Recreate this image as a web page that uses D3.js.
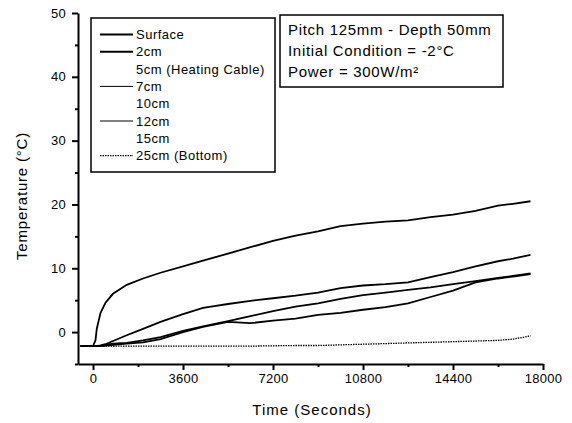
<!DOCTYPE html>
<html>
<head>
<meta charset="utf-8">
<script src="https://cdn.jsdelivr.net/npm/d3@7"></script>
<style>
    body { margin: 0; background: #fff; }
    text { font-family: "Liberation Sans", Arial, sans-serif; fill: #000; }
</style>
</head>
<body>
<div id="chart"></div>
<script>
// time in seconds
var times = [-500, 0, 100, 150, 300, 500, 800, 1350, 2000, 2700, 3600, 4400, 5400, 6300, 7200,
    8100, 9000, 9900, 10800, 11700, 12600, 13500, 14400, 15300, 16200, 16800, 17500];

var surface = [-2.2, -2.2, -1.3, 0.5, 3.0, 4.6, 6.0, 7.4, 8.4, 9.3, 10.3, 11.2, 12.3, 13.3, 14.3,
    15.1, 15.8, 16.6, 17.0, 17.3, 17.5, 18.0, 18.4, 19.0, 19.8, 20.1, 20.5];
var cm2 = [-2.2, -2.2, -2.2, -2.2, -2.1, -1.9, -1.4, -0.5, 0.5, 1.6, 2.8, 3.8, 4.4, 4.9, 5.3,
    5.7, 6.2, 6.9, 7.3, 7.5, 7.8, 8.6, 9.4, 10.3, 11.1, 11.5, 12.1];
var cm7 = [-2.2, -2.2, -2.2, -2.2, -2.2, -2.0, -1.8, -1.7, -1.3, -0.8, 0.2, 0.9, 1.7, 2.5, 3.3,
    4.0, 4.5, 5.2, 5.8, 6.2, 6.6, 7.0, 7.5, 8.0, 8.5, 8.8, 9.2];
var cm12 = [-2.2, -2.2, -2.2, -2.2, -2.2, -2.1, -2.0, -1.8, -1.6, -1.1, 0.0, 0.8, 1.6, 1.4, 1.8,
    2.1, 2.7, 3.0, 3.5, 3.9, 4.5, 5.5, 6.5, 7.8, 8.4, 8.7, 9.1];
var cm25 = [-2.2, -2.2, -2.2, -2.2, -2.2, -2.2, -2.2, -2.2, -2.2, -2.2, -2.2, -2.2, -2.2, -2.2, -2.15,
    -2.1, -2.1, -2.0, -1.9, -1.8, -1.7, -1.6, -1.5, -1.4, -1.3, -1.1, -0.6];

var legendNames = ["Surface", "2cm", "5cm (Heating Cable)", "7cm", "10cm", "12cm", "15cm", "25cm (Bottom)"];
var legendData = [surface, cm2, null, cm7, null, cm12, null, cm25];
var strokeW = [2, 2, 0, 1, 0, 1, 0, 1.2];

var xTicks = [0, 3600, 7200, 10800, 14400, 18000];
var yTicks = [0, 10, 20, 30, 40, 50];
var noteLines = ["Pitch 125mm - Depth 50mm", "Initial Condition = -2°C", "Power = 300W/m²"];

var width = 572, height = 423;
var svg = d3.select("#chart")
    .append("svg")
    .attr("width", width)
    .attr("height", height);

var x = d3.scaleLinear().domain([-600, 18000]).range([78, 543]);
var y = d3.scaleLinear().domain([-5, 50]).range([364, 13]);

// minor ticks first
svg.append("g")
    .attr("transform", "translate(0,364)")
    .call(d3.axisBottom(x).tickValues(d3.range(1800, 18000, 3600)).tickSize(3).tickFormat(""))
    .call(g => g.select(".domain").remove());
svg.append("g")
    .attr("transform", "translate(78,0)")
    .call(d3.axisLeft(y).tickValues(d3.range(-5, 50, 10)).tickSize(3).tickFormat(""))
    .call(g => g.select(".domain").remove());

var xAxis = svg.append("g")
    .attr("transform", "translate(0,364)")
    .call(d3.axisBottom(x).tickValues(xTicks).tickFormat(d3.format("d")).tickSize(6).tickSizeOuter(0).tickPadding(4));
var yAxis = svg.append("g")
    .attr("transform", "translate(78,0)")
    .call(d3.axisLeft(y).tickValues(yTicks).tickFormat(d3.format("d")).tickSize(6).tickSizeOuter(0).tickPadding(6));

svg.selectAll(".tick text")
    .attr("font-size", "13px")
    .attr("letter-spacing", "0.3px")
    .attr("font-family", "Liberation Sans, Arial, sans-serif");
svg.selectAll(".domain, .tick line").attr("stroke", "#000").attr("stroke-width", 2);

svg.append("text")
    .attr("x", 312)
    .attr("y", 415)
    .attr("text-anchor", "middle")
    .attr("font-size", "15px")
    .attr("letter-spacing", "1px")
    .text("Time (Seconds)");

svg.append("text")
    .attr("transform", "translate(27,196) rotate(-90)")
    .attr("text-anchor", "middle")
    .attr("font-size", "15px")
    .attr("letter-spacing", "0.8px")
    .text("Temperature (°C)");

var line = d3.line()
    .x(function (d, i) { return x(times[i]); })
    .y(function (d) { return y(d); });

legendData.forEach(function (vals, i) {
    if (!vals) return;
    svg.append("path")
        .datum(vals)
        .attr("fill", "none")
        .attr("stroke", "#000")
        .attr("stroke-width", i == 7 ? 1.3 : 1.8)
        .attr("stroke-dasharray", i == 7 ? "1.5,1" : null)
        .attr("d", line);
});

// legend
svg.append("rect")
    .attr("x", 91).attr("y", 18)
    .attr("width", 184).attr("height", 154)
    .attr("fill", "#fff").attr("stroke", "#000").attr("stroke-width", 1.5);

legendNames.forEach(function (name, i) {
    var ly = 34.5 + i * 17.3;
    if (strokeW[i] > 0) {
        svg.append("line")
            .attr("x1", 100).attr("x2", 133)
            .attr("y1", ly).attr("y2", ly)
            .attr("stroke", "#000")
            .attr("stroke-width", strokeW[i])
            .attr("stroke-dasharray", i == 7 ? "1.5,1" : null);
    }
    svg.append("text")
        .attr("x", 136)
        .attr("y", ly + 4.5)
        .attr("font-size", "13px")
        .attr("letter-spacing", "0.5px")
        .text(name);
});

// note box
svg.append("rect")
    .attr("x", 280).attr("y", 15)
    .attr("width", 223).attr("height", 72)
    .attr("fill", "#fff").attr("stroke", "#000").attr("stroke-width", 1.5);

noteLines.forEach(function (t, i) {
    svg.append("text")
        .attr("x", 288)
        .attr("y", 35 + i * 21)
        .attr("font-size", "15px")
        .attr("letter-spacing", "0.7px")
        .text(t);
});
</script>
</body>
</html>
